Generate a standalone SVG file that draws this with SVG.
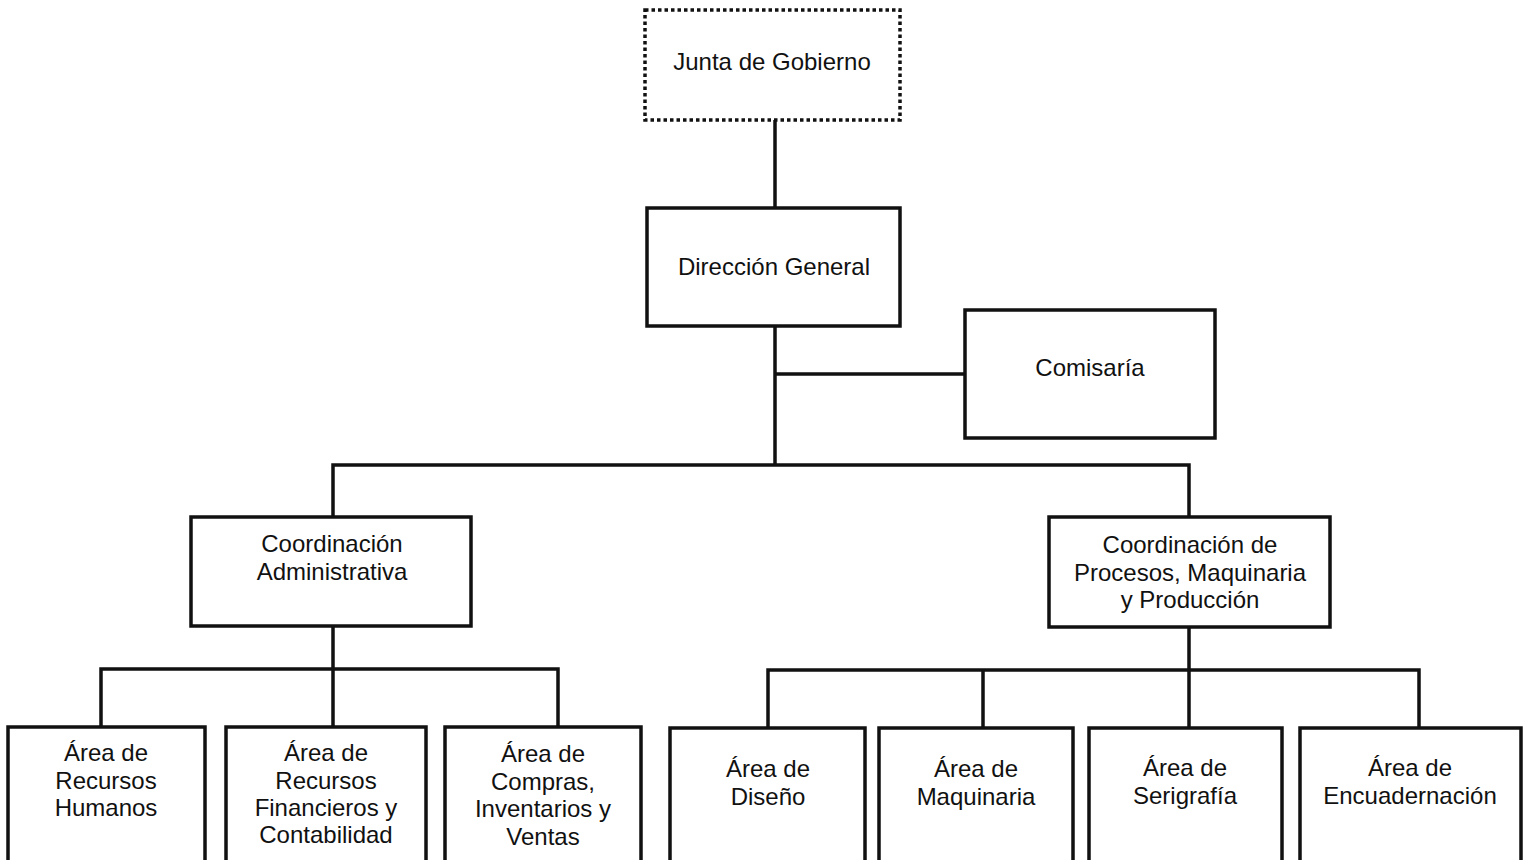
<svg xmlns="http://www.w3.org/2000/svg" width="1530" height="860" viewBox="0 0 1530 860">
<style>
.box{fill:#fff;stroke:#111;stroke-width:3.5}
.dot{fill:#fff;stroke:#111;stroke-width:3.5;stroke-dasharray:3.5 3}
.ln{fill:none;stroke:#111;stroke-width:3.5}
text{font-family:"Liberation Sans",Arial,sans-serif;font-size:24px;fill:#111;text-anchor:middle}
</style>
<rect width="1530" height="860" fill="#fff"/>
<g id="connectors">
<path class="ln" d="M775 120V208"/>
<path class="ln" d="M775 326V465M775 374H965"/>
<path class="ln" d="M333 517V465H1189V517"/>
<path class="ln" d="M333 626V669M101 727V669H558V727M333 669V727"/>
<path class="ln" d="M1189 627V670M768 728V670H1419V728M983 670V728M1189 670V728"/>
</g>
<g id="junta"><rect class="dot" x="645" y="10" width="255" height="110"/><text x="772" y="70">Junta de Gobierno</text></g>
<g id="direccion"><rect class="box" x="647" y="208" width="253" height="118"/><text x="774" y="275">Dirección General</text></g>
<g id="comisaria"><rect class="box" x="965" y="310" width="250" height="128"/><text x="1090" y="376">Comisaría</text></g>
<g id="coord-adm"><rect class="box" x="191" y="517" width="280" height="109"/><text x="332" y="552">Coordinación</text><text x="332" y="580">Administrativa</text></g>
<g id="coord-proc"><rect class="box" x="1049" y="517" width="281" height="110"/><text x="1190" y="553">Coordinación de</text><text x="1190" y="581">Procesos, Maquinaria</text><text x="1190" y="608">y Producción</text></g>
<g id="rh"><rect class="box" x="8" y="727" width="197" height="140"/><text x="106" y="761">Área de</text><text x="106" y="789">Recursos</text><text x="106" y="816">Humanos</text></g>
<g id="rf"><rect class="box" x="226" y="727" width="200" height="140"/><text x="326" y="761">Área de</text><text x="326" y="789">Recursos</text><text x="326" y="816">Financieros y</text><text x="326" y="843">Contabilidad</text></g>
<g id="compras"><rect class="box" x="445" y="727" width="196" height="140"/><text x="543" y="762">Área de</text><text x="543" y="790">Compras,</text><text x="543" y="817">Inventarios y</text><text x="543" y="845">Ventas</text></g>
<g id="diseno"><rect class="box" x="670" y="728" width="195" height="140"/><text x="768" y="777">Área de</text><text x="768" y="805">Diseño</text></g>
<g id="maquinaria"><rect class="box" x="879" y="728" width="194" height="140"/><text x="976" y="777">Área de</text><text x="976" y="805">Maquinaria</text></g>
<g id="serigrafia"><rect class="box" x="1089" y="728" width="193" height="140"/><text x="1185" y="776">Área de</text><text x="1185" y="804">Serigrafía</text></g>
<g id="encuadernacion"><rect class="box" x="1300" y="728" width="221" height="140"/><text x="1410" y="776">Área de</text><text x="1410" y="804">Encuadernación</text></g>
</svg>
